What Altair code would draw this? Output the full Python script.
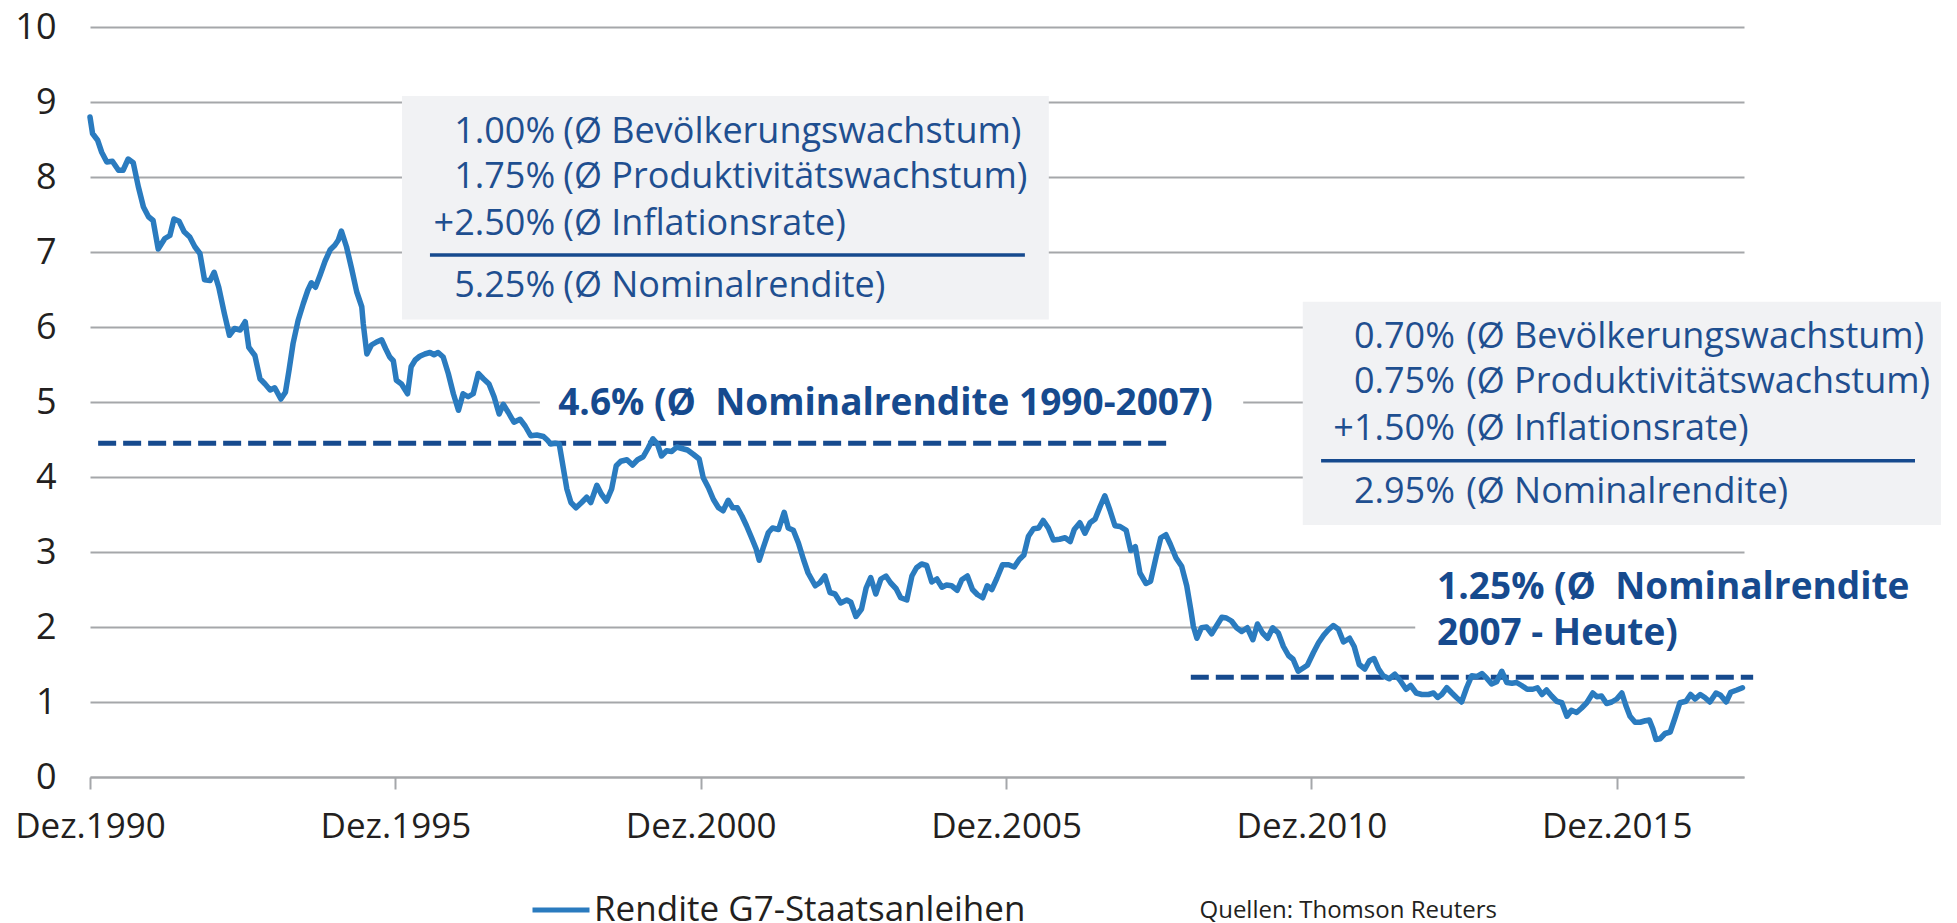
import altair as alt
import pandas as pd

FONT = "Open Sans"

# x = months after December 1990 (0 = Dez.1990), y = yield in %
months = [
    0, 0.5, 1.5, 2.3, 3.3, 4.4, 5.6, 6.5, 7.5, 8.5, 9.5, 10.5, 11.5, 12.4, 13.4, 14.7, 15.7, 16.5, 17.5, 18.5,
    19.6, 20.6, 21.6, 22.5, 23.6, 24.4, 25.3, 26.4, 27.4, 28.4, 29.5, 30.5, 31.2, 32.4, 33.4, 34.4, 35.4, 36.3,
    37.5, 38.4, 39.1, 39.9, 40.9, 41.9, 42.8, 43.5, 44.3, 45.2, 46.2, 47.2, 48.1, 48.8, 49.4, 50.4, 51.4, 52.4,
    53.4, 53.7, 54.4, 55.3, 56.3, 57.3, 58.1, 58.9, 59.6, 60.2, 61.2, 62.4, 63.1, 63.9, 64.8, 65.8, 66.8, 67.6,
    68.4, 69.4, 70.4, 71.4, 72.4, 73.3, 74.3, 75.3, 76.3, 77.3, 78.4, 79.4, 80.4,
    81.2, 82.2, 83.3, 84.5, 85.5, 86.6, 87.8, 89.1, 89.9, 90.5, 91.4, 92.2, 93.1, 93.7, 94.5, 95.5, 96.6, 97.6,
    98.4, 99.6, 100.5, 101.5, 102.5, 103.4, 104.3, 105.5, 106.6, 107.6, 108.7, 109.7, 110.6, 111.5, 112.3, 113.3,
    114.3, 115.3, 116.3, 117.4, 118.6, 119.7, 120.5, 121.5, 122.5, 123.5, 124.4, 125.4, 126.3, 127.2, 128.1,
    129.0, 130.0, 130.9, 131.5, 132.3, 133.3, 134.1, 135.3, 136.4, 137.2, 138.2, 139.2, 140.2, 141.1, 142.5,
    143.4, 144.4, 145.4, 146.4, 147.5, 148.7, 149.5, 150.5, 151.6, 152.5, 153.4, 154.4, 155.4, 156.4, 157.3,
    158.4, 159.3,
    160.5, 161.5, 162.4, 163.4, 164.4, 165.4, 166.4, 167.4, 168.3, 169.3, 170.4, 171.3, 172.4, 173.4, 174.4,
    175.4, 176.3, 177.2, 178.2, 179.3, 180.5, 181.6, 182.6, 183.5, 184.4, 185.4, 186.4, 187.3, 188.3, 189.3,
    190.5, 191.6, 192.6, 193.4, 194.5, 195.5, 196.5, 197.5, 198.5, 199.4, 200.4, 201.4, 202.4, 203.6, 204.5,
    205.4, 206.3, 207.5, 208.4, 209.5, 210.4, 211.4, 212.3, 213.4, 214.5, 215.5, 216.3, 216.8, 217.5, 218.4,
    219.4, 220.4, 221.4, 222.4, 223.3, 224.3, 225.3, 226.3, 227.4, 228.5, 229.4, 230.4, 231.4, 232.4, 233.5,
    234.5, 235.5, 236.4, 237.4,
    239.2, 240.4, 241.4, 242.4, 243.3, 244.3, 245.3, 246.3, 247.5, 248.4, 249.4, 250.5, 251.4, 252.3, 253.2,
    254.1, 255.3, 256.4, 257.4, 258.6, 259.5, 260.6, 261.7, 263.0, 264.0, 264.8, 265.6, 266.6, 267.6, 268.5,
    269.5, 270.5, 271.5, 272.5, 273.5, 274.4, 275.4, 276.4, 277.4, 278.4, 279.4, 280.3, 281.3, 282.4, 283.5,
    284.4, 285.3, 286.2, 287.2, 288.2, 289.2, 290.2, 291.1, 292.1, 293.1, 294.1, 295.3, 296.1, 297.0, 298.0,
    299.0, 300.0, 301.0, 301.8, 302.6, 303.6, 304.6, 305.6, 306.4, 307.1, 307.7, 308.5, 309.5, 310.5, 311.4,
    312.4, 313.6, 314.5, 315.4, 316.4, 317.3, 318.3, 319.5, 320.4, 321.5, 322.4, 323.6, 324.7,
]
yields = [
    8.8, 8.58, 8.49, 8.33, 8.2, 8.21, 8.09, 8.09, 8.24, 8.19, 7.87, 7.6, 7.47, 7.42, 7.04, 7.18, 7.22, 7.44, 7.41, 7.27,
    7.2, 7.07, 6.98, 6.63, 6.62, 6.73, 6.53, 6.18, 5.89, 5.98, 5.96, 6.07, 5.73, 5.62, 5.31, 5.24, 5.16, 5.19,
    5.04, 5.13, 5.42, 5.78, 6.09, 6.31, 6.49, 6.59, 6.53, 6.69, 6.88, 7.03, 7.09, 7.16, 7.28, 7.07, 6.78, 6.47,
    6.27, 6.04, 5.64, 5.76, 5.8, 5.83, 5.71, 5.6, 5.55, 5.29, 5.24, 5.11, 5.47, 5.56, 5.61, 5.64, 5.66, 5.63,
    5.66, 5.6, 5.38, 5.11, 4.89, 5.11, 5.07, 5.11, 5.38, 5.31, 5.24, 5.07, 4.84,
    4.97, 4.86, 4.73, 4.77, 4.68, 4.55, 4.56, 4.54, 4.49, 4.44, 4.45, 4.44, 4.08, 3.84, 3.66, 3.59, 3.66, 3.73,
    3.66, 3.89, 3.77, 3.68, 3.84, 4.15, 4.21, 4.23, 4.16, 4.23, 4.27, 4.39, 4.51, 4.44, 4.28, 4.35,
    4.34, 4.4, 4.38, 4.36, 4.3, 4.24, 3.99, 3.86, 3.7, 3.59, 3.55, 3.69, 3.59, 3.59, 3.48,
    3.35, 3.19, 3.04, 2.89, 3.06, 3.26, 3.32, 3.3, 3.53, 3.32, 3.29, 3.12, 2.9, 2.72, 2.55,
    2.59, 2.68, 2.46, 2.44, 2.32, 2.36, 2.33, 2.14, 2.24, 2.52, 2.66, 2.44, 2.64, 2.68, 2.59,
    2.51, 2.39,
    2.36, 2.68, 2.79, 2.84, 2.82, 2.6, 2.64, 2.53, 2.56, 2.55, 2.49, 2.63, 2.68, 2.5, 2.43,
    2.39, 2.55, 2.5, 2.65, 2.83, 2.83, 2.8, 2.9, 2.96, 3.21, 3.31, 3.32, 3.42, 3.32, 3.16,
    3.17, 3.19, 3.14, 3.3, 3.39, 3.25, 3.39, 3.44, 3.61, 3.75, 3.56, 3.35, 3.34, 3.29, 3.02,
    3.07, 2.72, 2.58, 2.61, 2.94, 3.19, 3.23, 3.1, 2.92, 2.81, 2.55, 2.23, 2.01, 1.85, 1.99,
    2.0, 1.91, 2.02, 2.13, 2.12, 2.08, 1.99, 1.94, 1.99, 1.83, 2.04, 1.92, 1.85, 1.99, 1.92,
    1.74, 1.62, 1.57, 1.41,
    1.49, 1.66, 1.79, 1.89, 1.96, 2.02, 1.97, 1.8, 1.85, 1.74, 1.5, 1.44, 1.55, 1.58, 1.44,
    1.35, 1.31, 1.37, 1.29, 1.17, 1.22, 1.12, 1.1, 1.1, 1.12, 1.06, 1.1, 1.19, 1.12, 1.06,
    1.0, 1.19, 1.35, 1.34, 1.38, 1.32, 1.24, 1.27, 1.41, 1.26, 1.25, 1.26, 1.22, 1.17, 1.17,
    1.19, 1.1, 1.16, 1.08, 1.01, 0.99, 0.81, 0.89, 0.86, 0.92, 0.99, 1.12, 1.07, 1.08, 0.98,
    1.0, 1.04, 1.12, 0.95, 0.81, 0.73, 0.73, 0.75, 0.76, 0.64, 0.5, 0.51, 0.58, 0.6, 0.78,
    0.99, 1.01, 1.1, 1.04, 1.1, 1.06, 1.0, 1.12, 1.09, 1.0, 1.13, 1.16, 1.19,
]
assert len(months) == len(yields)

series_name = "Rendite G7-Staatsanleihen"
x_tick_months = [0, 60, 120, 180, 240, 300]
y_ticks = [0, 1, 2, 3, 4, 5, 6, 7, 8, 9, 10]

# averages (dashed lines)
avg_values = [4.45, 1.33]
avg_start = [1.6, 216.3]
avg_end = [211.6, 326.8]

NB = "\u00a0"
box1_numbers = ["1.00%", "1.75%", "+2.50%", "5.25%"]
box2_numbers = ["0.70%", "0.75%", "+1.50%", "2.95%"]
box_labels = ["(Ø Bevölkerungswachstum)", "(Ø Produktivitätswachstum)",
              "(Ø Inflationsrate)", "(Ø Nominalrendite)"]
bold_label_1 = "4.6% (Ø " + NB + "Nominalrendite 1990-2007)"
bold_label_2 = ["1.25% (Ø " + NB + "Nominalrendite", "2007 - Heute)"]
source_text = "Quellen: Thomson Reuters"

LINE_BLUE = "#2A7BBF"
DARK_BLUE = "#164A8E"
BOX_TEXT = "#1F4F90"
BOX_FILL = "#F1F2F4"
GRID = "#A5A7AA"
LABEL = "#231F20"

XS = alt.Scale(domain=[0, 325], nice=False, zero=False)
YS = alt.Scale(domain=[0, 10], nice=False, zero=True)

df = pd.DataFrame({"monat": months, "rendite": yields, "serie": series_name})

line = alt.Chart(df).mark_line(strokeWidth=5.5, strokeJoin="round", strokeCap="round").encode(
    x=alt.X("monat:Q", scale=XS, title=None, axis=alt.Axis(
        values=x_tick_months, labelExpr="'Dez.' + (1990 + datum.value / 12)", title=None,
        labelFlush=False, labelOverlap=False)),
    y=alt.Y("rendite:Q", scale=YS, title=None, axis=alt.Axis(
        values=y_ticks, format="d", title=None, labelOverlap=False)),
    color=alt.Color("serie:N", scale=alt.Scale(domain=[series_name], range=[LINE_BLUE]),
                    legend=alt.Legend(orient="none", legendX=440, legendY=852, title=None,
                                      symbolType="stroke", symbolSize=3249, symbolStrokeWidth=5,
                                      labelFont=FONT, labelFontSize=35, labelColor=LABEL,
                                      labelLimit=1000, labelOffset=2, padding=0)),
)


def xy(fx="x", fy="y"):
    return dict(x=alt.X(f"{fx}:Q", scale=XS, title=None), y=alt.Y(f"{fy}:Q", scale=YS, title=None))


boxes = pd.DataFrame({"x": [61.3, 238.3], "x2": [188.4, 365.9], "y": [9.08, 6.337], "y2": [6.10, 3.36]})
box_layer = alt.Chart(boxes).mark_rect(color=BOX_FILL).encode(**xy(), x2="x2", y2="y2")

whites = pd.DataFrame({"x": [88.4, 260.4], "x2": [226.6, 330], "y": [5.32, 2.89], "y2": [4.65, 1.63]})
white_layer = alt.Chart(whites).mark_rect(color="white").encode(**xy(), x2="x2", y2="y2")

dividers = pd.DataFrame({"x": [66.8, 241.9], "x2": [183.7, 358.6], "y": [6.96, 4.217]})
divider_layer = alt.Chart(dividers).mark_rule(color=DARK_BLUE, strokeWidth=3.5).encode(**xy(), x2="x2")

avgs = pd.DataFrame({"x": avg_start, "x2": avg_end, "y": avg_values})
avg_layer = alt.Chart(avgs).mark_rule(color=DARK_BLUE, strokeWidth=5, strokeDash=[18, 7]).encode(
    **xy(), x2="x2")

text_rows = [8.457, 7.849, 7.227, 6.404, 5.716, 5.116, 4.493, 3.649]
num_df = pd.DataFrame({"x": [91.4] * 4 + [268.2] * 4, "y": text_rows, "t": box1_numbers + box2_numbers})
lab_df = pd.DataFrame({"x": [93.0] * 4 + [270.4] * 4, "y": text_rows, "t": box_labels + box_labels})
num_layer = alt.Chart(num_df).mark_text(align="right", baseline="alphabetic", font=FONT,
                                        fontSize=36, color=BOX_TEXT).encode(**xy(), text="t:N")
lab_layer = alt.Chart(lab_df).mark_text(align="left", baseline="alphabetic", font=FONT,
                                        fontSize=36, color=BOX_TEXT).encode(**xy(), text="t:N")

bold_df = pd.DataFrame({
    "x": [92.0, 264.7, 264.7],
    "y": [4.827, 2.369, 1.76],
    "t": [bold_label_1] + bold_label_2,
})
bold_layer = alt.Chart(bold_df).mark_text(align="left", baseline="alphabetic", font=FONT,
                                          fontSize=37, fontWeight="bold", color=DARK_BLUE).encode(
    **xy(), text="t:N")

src_layer = alt.Chart(pd.DataFrame({"t": [source_text]})).mark_text(
    align="left", baseline="alphabetic", font=FONT, fontSize=24, color=LABEL).encode(
    x=alt.value(1109.5), y=alt.value(891), text="t:N")

chart = alt.layer(
    box_layer, white_layer, divider_layer, avg_layer, line,
    num_layer, lab_layer, bold_layer, src_layer,
).properties(
    width=1654, height=750,
    padding={"left": 82, "top": 19, "right": 197, "bottom": 148},
    autosize=alt.AutoSizeParams(type="none"),
).configure(
    background="white",
).configure_view(
    strokeWidth=0,
).configure_axisX(
    grid=False, domain=True, domainColor=GRID, domainWidth=2,
    ticks=True, tickColor=GRID, tickWidth=2, tickSize=12,
    labelFont=FONT, labelFontSize=35, labelColor=LABEL, labelPadding=20,
).configure_axisY(
    grid=True, gridColor=GRID, gridWidth=1.8, domain=False, ticks=False, tickSize=0,
    labelFont=FONT, labelFontSize=36, labelColor=LABEL, labelPadding=34,
)

chart.save("out.html", embed_options={"renderer": "svg", "actions": False})
